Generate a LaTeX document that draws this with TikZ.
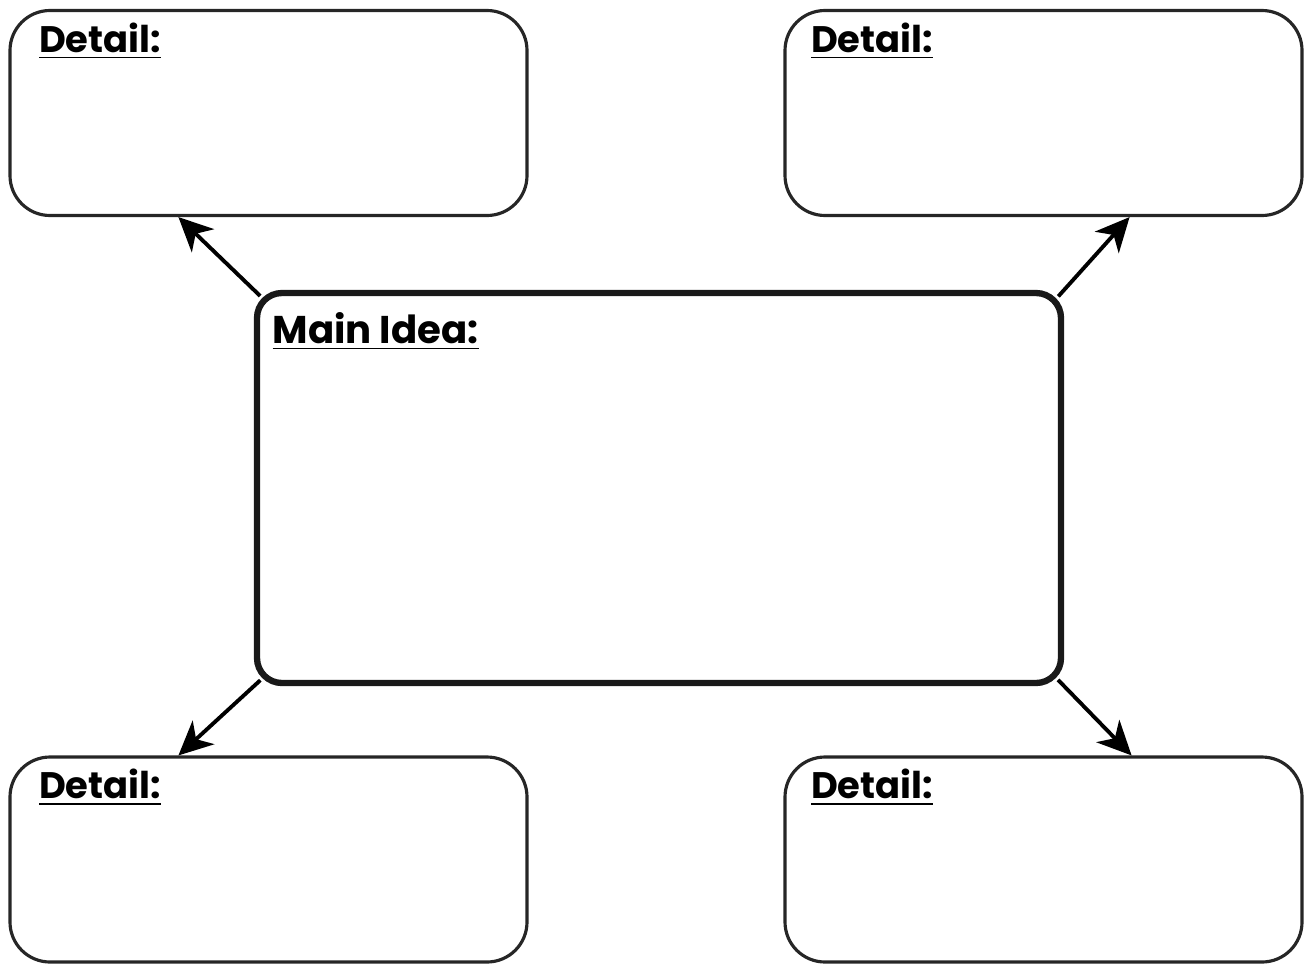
\documentclass[tikz,border=0pt]{standalone}
\usepackage{fontspec}
\setmainfont{Poppins}
\usetikzlibrary{arrows.meta,positioning,calc}
\tikzset{
  detailbox/.style={draw=black!85,line width=0.9pt,rounded corners=0.4cm,
                    minimum width=5.17cm,minimum height=2.05cm},
  mainbox/.style={draw=black!90,line width=1.8pt,rounded corners=0.25cm,
                  minimum width=8.04cm,minimum height=3.9cm},
  lbl/.style={anchor=north west,inner sep=0pt,font=\bfseries\fontsize{10.5}{12}\selectfont},
  link/.style={-{Stealth[length=0.34cm,width=0.32cm,inset=0.1cm]},line width=1.1pt,shorten <=-2.5pt}
}
\begin{document}
\begin{tikzpicture}[line join=round]
  \useasboundingbox (0,0) rectangle (13.11,-9.64);
  % main idea in the middle
  \node[mainbox] (main) at (6.59,-4.88) {};
  \node[lbl,font=\bfseries\fontsize{11}{13}\selectfont] (mainlbl)
     at ($(main.north west)+(0.18,-0.22)$) {\underline{Main Idea:}};
  % four detail boxes
  \node[detailbox] (tl) at (2.685,-1.13) {};
  \node[detailbox] (tr) at (10.435,-1.13) {};
  \node[detailbox] (bl) at (2.685,-8.595) {};
  \node[detailbox] (br) at (10.435,-8.595) {};
  \node[lbl] (tllbl) at ($(tl.north west)+(0.30,-0.13)$) {\underline{Detail:}};
  \node[lbl] (trlbl) at ($(tr.north west)+(0.27,-0.13)$) {\underline{Detail:}};
  \node[lbl] (bllbl) at ($(bl.north west)+(0.30,-0.13)$) {\underline{Detail:}};
  \node[lbl] (brlbl) at ($(br.north west)+(0.27,-0.13)$) {\underline{Detail:}};
  % arrow ends on the detail boxes
  \coordinate (tlend) at ($(tl.south west)+(1.70,0)$);
  \coordinate (trend) at ($(tr.south east)+(-1.74,0)$);
  \coordinate (blend) at ($(bl.north west)+(1.70,0)$);
  \coordinate (brend) at ($(br.north east)+(-1.72,0)$);
  \draw[link] (main.north west) -- (tlend);
  \draw[link] (main.north east) -- (trend);
  \draw[link] (main.south west) -- (blend);
  \draw[link] (main.south east) -- (brend);
\end{tikzpicture}
\end{document}
